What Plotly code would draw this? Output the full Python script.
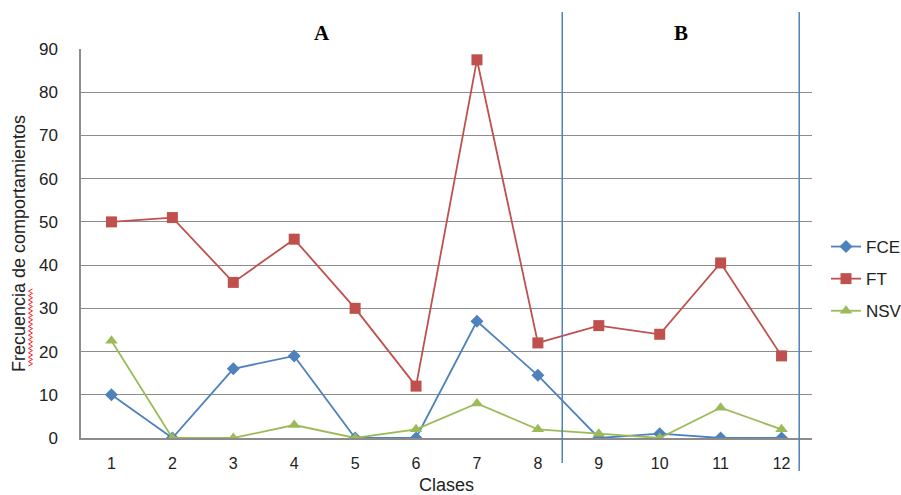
import plotly.graph_objects as go

# Class numbers along the x axis
clases = [1, 2, 3, 4, 5, 6, 7, 8, 9, 10, 11, 12]

# Behaviour frequencies per class
fce = [10, 0, 16, 19, 0, 0, 27, 14.5, 0, 1, 0, 0]
ft = [50, 51, 36, 46, 30, 12, 87.5, 22, 26, 24, 40.5, 19]
nsv = [22.5, 0, 0, 3, 0, 2, 8, 2, 1, 0, 7, 2]

y_ticks = [0, 10, 20, 30, 40, 50, 60, 70, 80, 90]

# Group dividers (in x-axis units) and group labels
dividers = [8.4, 12.29]
groups = ["A", "B"]

BLUE = "#4F81BD"
RED = "#C0504D"
GREEN = "#9BBB59"
GRID = "#8C8C8C"
FONT = "Liberation Sans, Arial, sans-serif"

fig = go.Figure()
fig.add_trace(go.Scatter(
    x=clases, y=fce, name="FCE", mode="lines+markers",
    line=dict(color=BLUE, width=1.8),
    marker=dict(symbol="diamond", size=10, color=BLUE),
    legendgroup="1",
))
fig.add_trace(go.Scatter(
    x=clases, y=ft, name="FT", mode="lines+markers",
    line=dict(color=RED, width=1.8),
    marker=dict(symbol="square", size=11, color=RED),
    legendgroup="2",
))
fig.add_trace(go.Scatter(
    x=clases, y=nsv, name="NSV", mode="lines+markers",
    line=dict(color=GREEN, width=1.8),
    marker=dict(symbol="triangle-up", size=11, color=GREEN),
    legendgroup="3",
))

# Plot-area geometry in pixels, used for paper-space decorations
W, H = 901, 495
L, R, T, B = 81, 89, 49, 57
pw, ph = W - L - R, H - T - B


def px(xp):
    return (xp - L) / pw


def py(yp):
    return (H - B - yp) / ph


shapes = []
# Vertical dividers between groups
shapes.append(dict(type="line", xref="x", yref="paper",
                   x0=dividers[0], x1=dividers[0], y0=py(463), y1=py(12),
                   line=dict(color=BLUE, width=1.5)))
shapes.append(dict(type="line", xref="x", yref="paper",
                   x0=dividers[1], x1=dividers[1], y0=py(471), y1=py(12),
                   line=dict(color=BLUE, width=1.5)))

# Wavy underline beneath "Frecuencia"
pts = []
yy = 366.0
k = 0
while yy > 287:
    xx = 28.5 if k % 2 == 0 else 32.5
    pts.append((px(xx), py(yy)))
    yy -= 2.2
    k += 1
path = "M " + " L ".join(f"{a:.5f},{b:.5f}" for a, b in pts)
shapes.append(dict(type="path", xref="paper", yref="paper", path=path,
                   line=dict(color="#FF2020", width=1)))

# Group labels centred between dividers
annotations = []
left_edges = [0.5, dividers[0]]
for g, lo, hi in zip(groups, left_edges, dividers):
    annotations.append(dict(
        x=(lo + hi) / 2, y=py(33), xref="x", yref="paper",
        text=f"<b>{g}</b>", showarrow=False,
        font=dict(family="Liberation Serif, Times New Roman, serif", size=21, color="#000000"),
        xanchor="center", yanchor="middle",
    ))

fig.update_layout(
    width=W, height=H,
    margin=dict(l=L, r=R, t=T, b=B, autoexpand=False),
    paper_bgcolor="white", plot_bgcolor="white",
    font=dict(family=FONT, size=16, color="#222222"),
    showlegend=True,
    legend=dict(
        x=px(826), y=py(229), xanchor="left", yanchor="top",
        font=dict(family=FONT, size=17, color="#222222"),
        traceorder="grouped", tracegroupgap=7,
        bgcolor="rgba(0,0,0,0)", itemwidth=30,
    ),
    shapes=shapes,
    annotations=annotations,
)

fig.update_xaxes(
    range=[0.5, 12.5], tickmode="array", tickvals=clases,
    ticktext=[str(c) for c in clases],
    showgrid=False, zeroline=False,
    showline=True, linecolor=GRID, linewidth=1.5,
    ticks="", ticklabelstandoff=10, automargin=False,
    tickfont=dict(size=16, color="#222222"),
    title=dict(text="Clases", font=dict(size=18, color="#222222"), standoff=8),
)
fig.update_yaxes(
    range=[0, 90], tickmode="array", tickvals=y_ticks,
    showgrid=True, gridcolor=GRID, gridwidth=1, zeroline=False,
    showline=True, linecolor=GRID, linewidth=1.5,
    ticks="", ticklabelstandoff=18, automargin=False,
    tickfont=dict(size=17, color="#222222"),
    title=dict(text="Frecuencia de comportamientos",
               font=dict(size=18, color="#222222"), standoff=9),
)

fig.write_html("out.html")
